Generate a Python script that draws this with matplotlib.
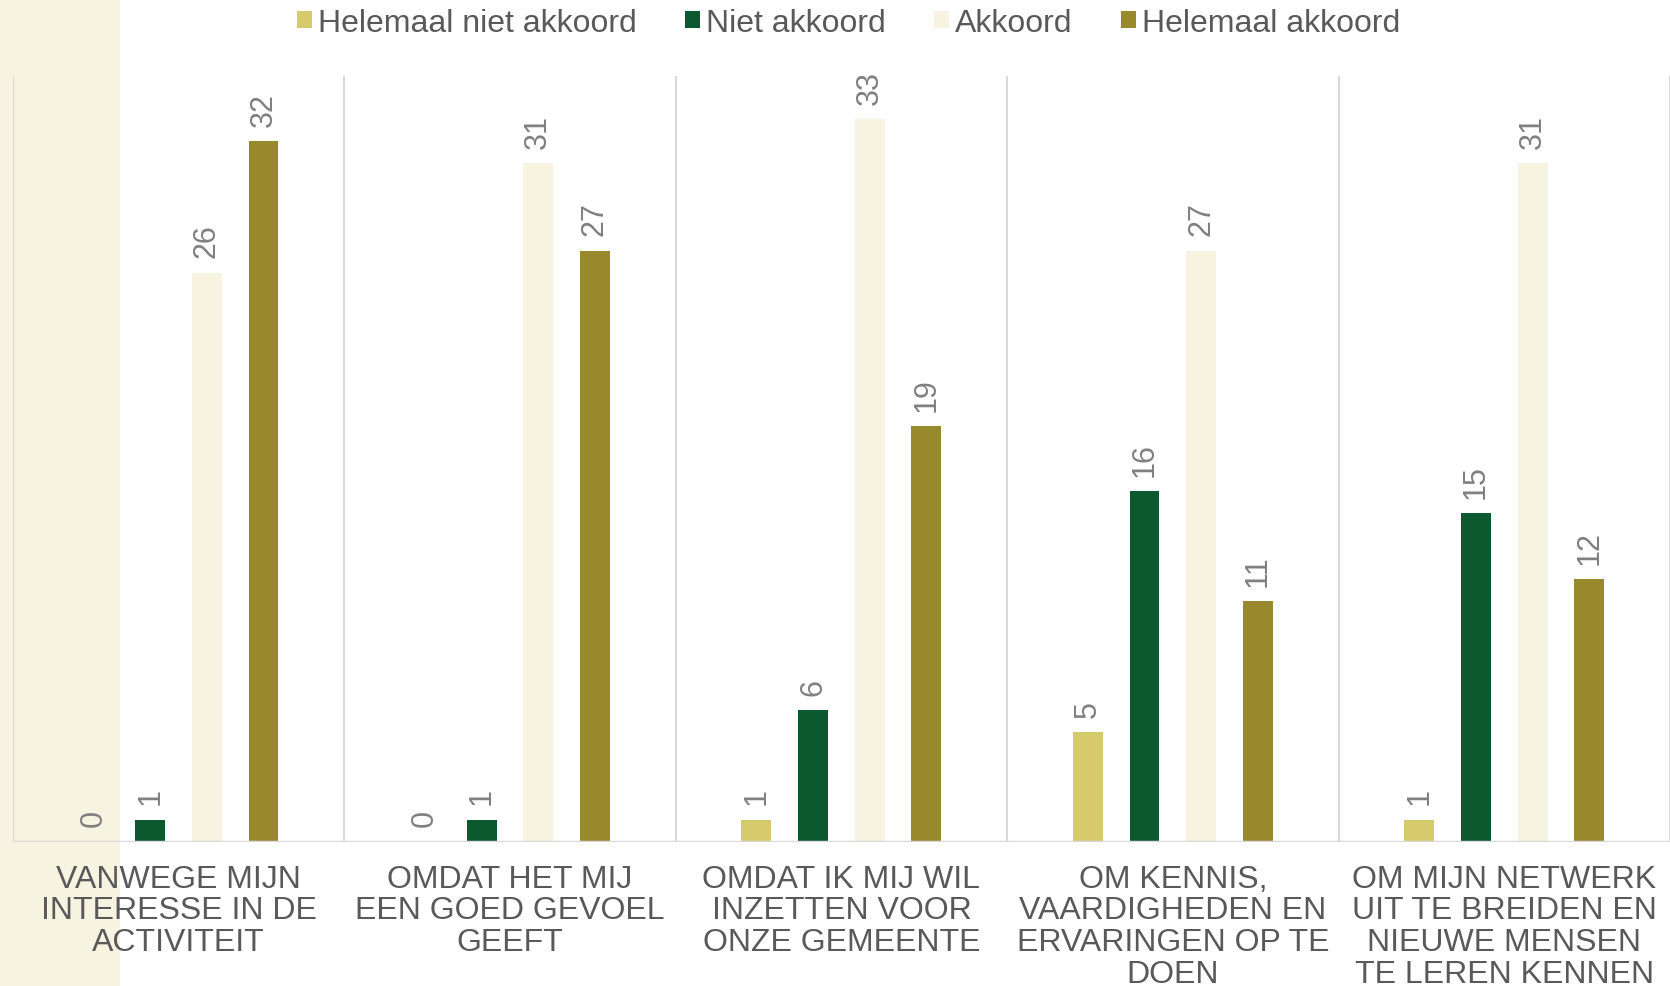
import numpy as np
import matplotlib
matplotlib.use('Agg')
import matplotlib.pyplot as plt
from matplotlib.patches import Rectangle

plt.rcParams['font.family'] = ['Liberation Sans', 'DejaVu Sans']

categories = [
    "VANWEGE MIJN\nINTERESSE IN DE\nACTIVITEIT",
    "OMDAT HET MIJ\nEEN GOED GEVOEL\nGEEFT",
    "OMDAT IK MIJ WIL\nINZETTEN VOOR\nONZE GEMEENTE",
    "OM KENNIS,\nVAARDIGHEDEN EN\nERVARINGEN OP TE\nDOEN",
    "OM MIJN NETWERK\nUIT TE BREIDEN EN\nNIEUWE MENSEN\nTE LEREN KENNEN",
]
series_names = ["Helemaal niet akkoord", "Niet akkoord", "Akkoord", "Helemaal akkoord"]
helemaal_niet = [0, 0, 1, 5, 1]
niet = [1, 1, 6, 16, 15]
akkoord = [26, 31, 33, 27, 31]
helemaal = [32, 27, 19, 11, 12]
colors = ['#D6CA6C', '#0C582F', '#F6F3E0', '#97892C']

series = [helemaal_niet, niet, akkoord, helemaal]

fig = plt.figure(figsize=(16.7, 9.87), dpi=100)
# beige strip at the left edge
fig.add_artist(Rectangle((0, 0), 120 / 1670, 1, transform=fig.transFigure,
                         facecolor='#F6F3E0', edgecolor='none', zorder=-1))

ax = fig.add_axes([12.8 / 1670, 144.5 / 987, (1670 - 12.8) / 1670, 765.8 / 987])
ax.set_facecolor('none')

x = np.arange(len(categories)) + 0.5
spacing = 0.171
width = 0.09
for k, (vals, name, col) in enumerate(zip(series, series_names, colors)):
    pos = x + (k - 1.5) * spacing
    ax.bar(pos, vals, width, color=col, label=name, zorder=2)
    for px, v in zip(pos, vals):
        ax.annotate(str(v), (px, v), xytext=(0, 11), textcoords='offset points',
                    rotation=90, ha='center', va='bottom', fontsize=22,
                    color='#808080')

ax.set_xlim(0, len(categories))
ax.set_ylim(0, 35)
ax.vlines(np.arange(len(categories) + 1), 0, 35, color='#D9D9D9', lw=1.5, zorder=1)
ax.axhline(0, color='#D9D9D9', lw=2.5, zorder=3)

for s in ax.spines.values():
    s.set_visible(False)
ax.set_yticks([])
ax.set_xticks(x)
ax.set_xticklabels(categories, fontsize=23, color='#595959', linespacing=1.07)
ax.tick_params(axis='x', length=0, pad=16)

fig.legend(loc='upper center', bbox_to_anchor=(0.508, 1.02), ncol=4, frameon=False,
           fontsize=23, labelcolor='#595959', handlelength=0.47, handleheight=0.47,
           handletextpad=0.2, columnspacing=1.5)

fig.savefig('out.png', dpi=100)
